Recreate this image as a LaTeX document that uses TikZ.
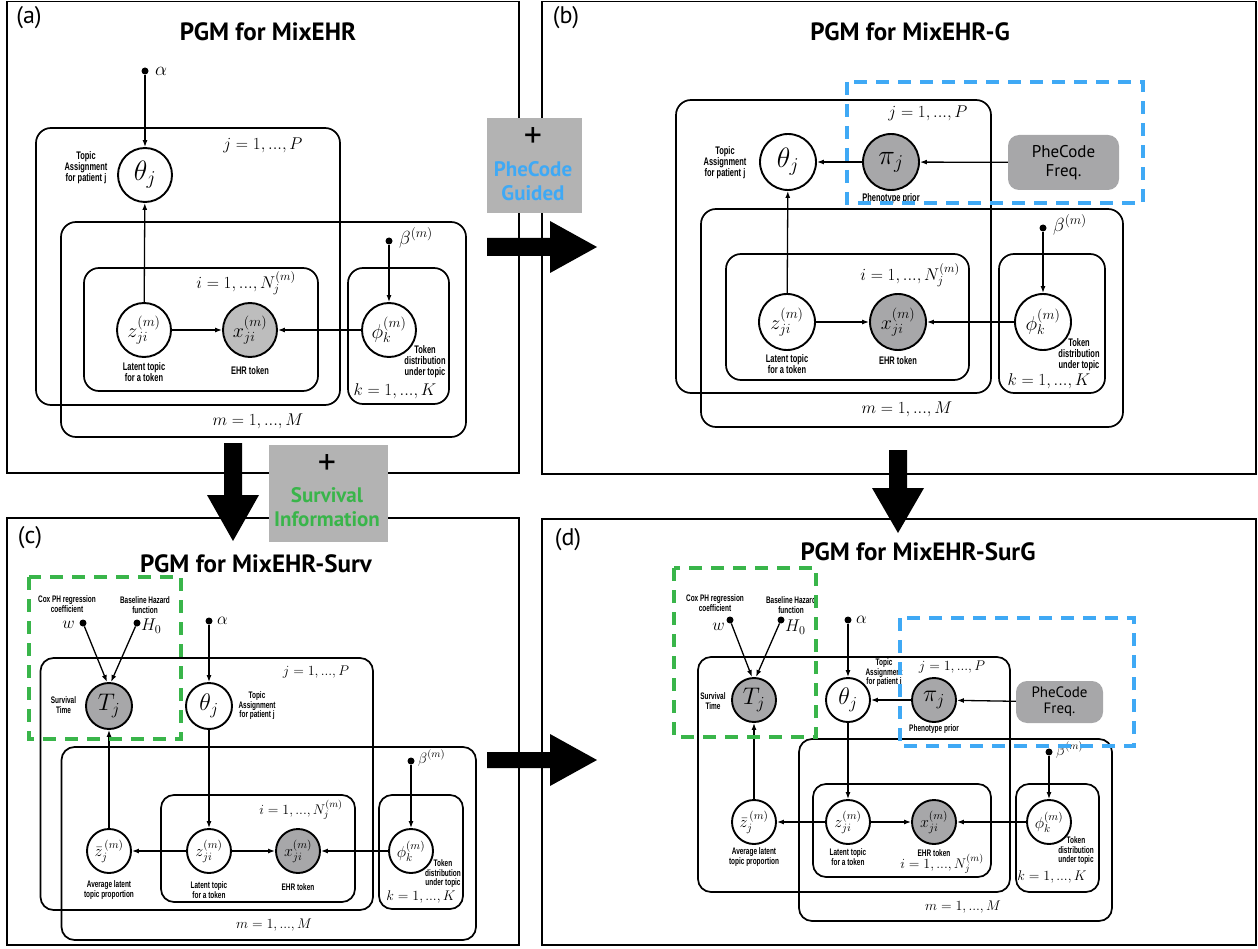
\documentclass[tikz,border=0pt]{standalone}
\usepackage{fix-cm}
\usepackage{fontspec}
\setsansfont{PT Sans}
\newfontfamily\condfont[FakeStretch=0.68]{Liberation Sans}
\usetikzlibrary{arrows.meta}
\definecolor{obsA}{HTML}{BDBDBD}
\definecolor{obsB}{HTML}{A7A7A9}
\definecolor{boxgray}{HTML}{B3B3B3}
\definecolor{guideblue}{HTML}{3FA9F5}
\definecolor{survgreen}{HTML}{39B54A}
\tikzset{
  panel/.style={draw, line width=1.8pt},
  plate/.style={draw, line width=1.7pt, rounded corners=#1},
  plate/.default=14pt,
  var/.style={circle, draw, line width=1.9pt, fill=white, inner sep=0pt, minimum size=#1},
  sym/.style={font=\fontsize{#1}{#1}\selectfont},
  arr/.style={-{Latex[length=7pt,width=5pt]}, line width=1.3pt},
  hyper/.style={circle, fill=black, inner sep=0pt, minimum size=7pt},
  note/.style={font=\condfont\bfseries\fontsize{#1}{#1}\selectfont, align=center, inner sep=0pt},
  tag/.style={font=\sffamily\fontsize{24}{24}\selectfont, inner sep=0pt},
  title/.style={font=\sffamily\bfseries\fontsize{25}{25}\selectfont, inner sep=0pt},
  mlab/.style={font=\fontsize{#1}{#1}\selectfont, inner sep=0pt},
  dashbox/.style={draw=#1, line width=3.5pt, dash pattern=on 13pt off 9pt},
  bigarrow/.style={fill=black},
  addbox/.style={fill=boxgray},
  freqbox/.style={fill=obsB, rounded corners=11pt, align=center, inner sep=0pt, font=\sffamily\fontsize{#1}{#1}\selectfont},
  addtext/.style={font=\sffamily\bfseries\fontsize{21}{21}\selectfont, inner sep=0pt, align=center},
  plus/.style={font=\sffamily\fontsize{36}{36}\selectfont, inner sep=0pt}
}
\begin{document}
\begin{tikzpicture}[x=1pt,y=-1pt]
\useasboundingbox (0,0) rectangle (1258,949);

% ---------------- panel (a): MixEHR ----------------
\draw[panel] (7,1.5) rectangle (519,473);
\node[tag] (aTag) at (29,18) {(a)};
\node[title] (aTitle) at (268,32) {PGM for MixEHR};
\draw[plate=15pt] (36,128) rectangle (340,405);
\draw[plate=15pt] (61,222) rectangle (466,437);
\draw[plate=15pt] (84,268) rectangle (318,391);
\draw[plate=15pt] (348,268) rectangle (449,404);
\node[mlab=17] (aJ) at (263,145) {$j = 1, ..., P$};
\node[mlab=17] (aM) at (258,421) {$m = 1, ..., M$};
\node[mlab=17] (aI) at (246,283) {$i = 1, ..., N_j^{(m)}$};
\node[mlab=17] (aK) at (395,391) {$k = 1, ..., K$};
\node[var=54pt, sym=28] (aTheta) at (145,175) {$\theta_j$};
\node[var=54pt, sym=20] (aZ) at (144,330) {$z_{ji}^{(m)}$};
\node[var=54pt, sym=20, fill=obsA] (aX) at (250,330) {$x_{ji}^{(m)}$};
\node[var=54pt, sym=20] (aPhi) at (389,330) {$\phi_k^{(m)}$};
\node[hyper] (aAlpha) at (145,71) {};
\node[mlab=19, anchor=west] (aAlphaL) at (155,71) {$\alpha$};
\node[hyper] (aBeta) at (389,241) {};
\node[mlab=19, anchor=west] (aBetaL) at (399,238) {$\beta^{(m)}$};
\node[note=11] (aThetaN) at (86,168) {Topic\\Assignment\\for patient j};
\node[note=11] (aZN) at (144,372) {Latent topic\\for a token};
\node[note=11] (aXN) at (250,371) {EHR token};
\node[note=11] (aPhiN) at (425,362) {Token\\distribution\\under topic};
\draw[arr] (aAlpha) -- (aTheta);
\draw[arr] (aZ) -- (aTheta);
\draw[arr] (aZ) -- (aX);
\draw[arr] (aPhi) -- (aX);
\draw[arr] (aBeta) -- (aPhi);

% ---------------- panel (b): MixEHR-G ----------------
\draw[panel] (542,1.5) rectangle (1256,474);
\node[tag] (bTag) at (566,18) {(b)};
\node[title] (bTitle) at (910,32) {PGM for MixEHR-G};
\draw[plate=15pt] (676,100) rectangle (991,393);
\draw[plate=15pt] (701,209) rectangle (1123,427);
\draw[plate=15pt] (726,254) rectangle (969,380);
\draw[plate=15pt] (999,254) rectangle (1105,393);
\node[mlab=17] (bJ) at (928,113) {$j = 1, ..., P$};
\node[mlab=17] (bM) at (907,409) {$m = 1, ..., M$};
\node[mlab=17] (bI) at (910,275) {$i = 1, ..., N_j^{(m)}$};
\node[mlab=17] (bK) at (1049,381) {$k = 1, ..., K$};
\node[var=56pt, sym=28] (bTheta) at (788,162) {$\theta_j$};
\node[var=56pt, sym=28, fill=obsB] (bPi) at (891,162) {$\pi_j$};
\node[freqbox=17, minimum width=111pt, minimum height=55pt] (bFreq) at (1063.5,162.5) {PheCode\\[2pt]Freq.};
\node[var=56pt, sym=20] (bZ) at (787,322) {$z_{ji}^{(m)}$};
\node[var=56pt, sym=20, fill=obsB] (bX) at (898,322) {$x_{ji}^{(m)}$};
\node[var=56pt, sym=20] (bPhi) at (1043,322) {$\phi_k^{(m)}$};
\node[hyper] (bBeta) at (1043,228) {};
\node[mlab=19, anchor=west] (bBetaL) at (1053,225) {$\beta^{(m)}$};
\node[note=11] (bThetaN) at (725,163) {Topic\\Assignment\\for patient j};
\node[note=11] (bPiN) at (891,199) {Phenotype prior};
\node[note=11] (bZN) at (787,364) {Latent topic\\for a token};
\node[note=11] (bXN) at (898,361) {EHR token};
\node[note=11] (bPhiN) at (1079,355) {Token\\distribution\\under topic};
\draw[arr] (bPi) -- (bTheta);
\draw[arr] (bFreq) -- (bPi);
\draw[arr] (bZ) -- (bTheta);
\draw[arr] (bZ) -- (bX);
\draw[arr] (bPhi) -- (bX);
\draw[arr] (bBeta) -- (bPhi);
\draw[dashbox=guideblue] (847,82) rectangle (1143,203);

% ---------------- panel (c): MixEHR-Surv ----------------
\draw[panel] (7,518) rectangle (519,945);
\node[tag] (cTag) at (30,538) {(c)};
\node[title] (cTitle) at (256,564) {PGM for MixEHR-Surv};
\draw[plate=13pt] (40.5,658) rectangle (373,910);
\draw[plate=13pt] (61.5,747) rectangle (476,940);
\draw[plate=13pt] (161,795) rectangle (355,902);
\draw[plate=13pt] (379,795) rectangle (463,909);
\node[mlab=14] (cJ) at (316,672) {$j = 1, ..., P$};
\node[mlab=14] (cM) at (274,925) {$m = 1, ..., M$};
\node[mlab=14] (cI) at (301,810) {$i = 1, ..., N_j^{(m)}$};
\node[mlab=14] (cK) at (421,897) {$k = 1, ..., K$};
\node[var=46pt, sym=24, fill=obsB] (cT) at (109,706) {$T_j$};
\node[var=46pt, sym=24] (cTheta) at (209,706) {$\theta_j$};
\node[var=44pt, sym=16] (cZbar) at (109,851) {$\bar{z}_j^{\,(m)}$};
\node[var=44pt, sym=16] (cZ) at (209,851) {$z_{ji}^{(m)}$};
\node[var=44pt, sym=16, fill=obsB] (cX) at (298,851) {$x_{ji}^{(m)}$};
\node[var=44pt, sym=16] (cPhi) at (411,851) {$\phi_k^{(m)}$};
\node[hyper] (cW) at (83,623) {};
\node[mlab=17, anchor=east] (cWL) at (75,625) {$w$};
\node[hyper] (cH) at (137,623) {};
\node[mlab=17, anchor=west] (cHL) at (141,626) {$H_0$};
\node[hyper] (cAlpha) at (209,621) {};
\node[mlab=17, anchor=west] (cAlphaL) at (217,621) {$\alpha$};
\node[hyper] (cBeta) at (411,761) {};
\node[mlab=15, anchor=west] (cBetaL) at (418,758) {$\beta^{(m)}$};
\node[note=9.5] (cWN) at (67,604) {Cox PH regression\\coefficient};
\node[note=9.5] (cHN) at (145,605) {Baseline Hazard\\function};
\node[note=9.5] (cTN) at (63.5,705) {Survival\\Time};
\node[note=9.5] (cThetaN) at (257,706) {Topic\\Assignment\\for patient j};
\node[note=9.5] (cZbarN) at (109,890) {Average latent\\topic proportion};
\node[note=9.5] (cZN) at (209,890) {Latent topic\\for a token};
\node[note=9.5] (cXN) at (298,887) {EHR token};
\node[note=9.5] (cPhiN) at (443,874) {Token\\distribution\\under topic};
\draw[arr] (cW) -- ([xshift=-2pt]cT.north);
\draw[arr] (cH) -- ([xshift=2pt]cT.north);
\draw[arr] (cAlpha) -- (cTheta);
\draw[arr] (cTheta) -- (cZ);
\draw[arr] (cZbar) -- (cT);
\draw[arr] (cZ) -- (cZbar);
\draw[arr] (cZ) -- (cX);
\draw[arr] (cPhi) -- (cX);
\draw[arr] (cBeta) -- (cPhi);
\draw[dashbox=survgreen] (29,577) rectangle (181,739);

% ---------------- panel (d): MixEHR-SurG ----------------
\draw[panel] (542,519) rectangle (1256,945);
\node[tag] (dTag) at (568,540) {(d)};
\node[title] (dTitle) at (918,552) {PGM for MixEHR-SurG};
\draw[plate=13pt] (698,657) rectangle (1010,892);
\draw[plate=13pt] (799,739) rectangle (1112,921);
\draw[plate=13pt] (813,784) rectangle (991,877);
\draw[plate=13pt] (1016,784) rectangle (1099,892);
\node[mlab=14] (dJ) at (952,667) {$j = 1, ..., P$};
\node[mlab=14] (dM) at (963,907) {$m = 1, ..., M$};
\node[mlab=14] (dI) at (942,864) {$i = 1, ..., N_j^{(m)}$};
\node[mlab=14] (dK) at (1052,877) {$k = 1, ..., K$};
\node[var=44pt, sym=24, fill=obsB] (dT) at (754,700) {$T_j$};
\node[var=44pt, sym=24] (dTheta) at (848,700) {$\theta_j$};
\node[var=44pt, sym=24, fill=obsB] (dPi) at (934,700) {$\pi_j$};
\node[freqbox=15, minimum width=87pt, minimum height=42pt] (dFreq) at (1059.5,702) {PheCode\\[1pt]Freq.};
\node[var=44pt, sym=16] (dZbar) at (754,822) {$\bar{z}_j^{\,(m)}$};
\node[var=44pt, sym=16] (dZ) at (848,822) {$z_{ji}^{(m)}$};
\node[var=44pt, sym=16, fill=obsB] (dX) at (934,822) {$x_{ji}^{(m)}$};
\node[var=44pt, sym=16] (dPhi) at (1049,822) {$\phi_k^{(m)}$};
\node[hyper] (dW) at (730,620) {};
\node[mlab=17, anchor=east] (dWL) at (725,627) {$w$};
\node[hyper] (dH) at (781,620) {};
\node[mlab=17, anchor=west] (dHL) at (785,627) {$H_0$};
\node[hyper] (dAlpha) at (848,620) {};
\node[mlab=17, anchor=west] (dAlphaL) at (856,620) {$\alpha$};
\node[hyper] (dBeta) at (1049,752) {};
\node[mlab=15, anchor=west] (dBetaL) at (1056,750) {$\beta^{(m)}$};
\node[note=9.5] (dWN) at (715,603) {Cox PH regression\\coefficient};
\node[note=9.5] (dHN) at (791,605) {Baseline Hazard\\function};
\node[note=9.5] (dTN) at (713,701) {Survival\\Time};
\node[note=9.5] (dThetaN) at (884,673) {Topic\\Assignment\\for patient j};
\node[note=9.5] (dPiN) at (934,729) {Phenotype prior};
\node[note=9.5] (dZbarN) at (754,857) {Average latent\\topic proportion};
\node[note=9.5] (dZN) at (848,857) {Latent topic\\for a token};
\node[note=9.5] (dXN) at (934,853) {EHR token};
\node[note=9.5] (dPhiN) at (1076,851) {Token\\distribution\\under topic};
\draw[arr] (dW) -- ([xshift=-2pt]dT.north);
\draw[arr] (dH) -- ([xshift=2pt]dT.north);
\draw[arr] (dAlpha) -- (dTheta);
\draw[arr] (dTheta) -- (dZ);
\draw[arr] (dZbar) -- (dT);
\draw[arr] (dZ) -- (dZbar);
\draw[arr] (dZ) -- (dX);
\draw[arr] (dPhi) -- (dX);
\draw[arr] (dBeta) -- (dPhi);
\draw[arr] (dPi) -- (dTheta);
\draw[arr] (dFreq) -- (dPi);
\draw[dashbox=survgreen] (674,568) rectangle (816,737);
\draw[dashbox=guideblue] (900,618) rectangle (1134,746);

% ---------------- transitions between panels ----------------
\fill[addbox] (487,118) rectangle (582,213);
\node[plus] (gPlus) at (533,138) {+};
\node[addtext, text=guideblue] (gText) at (533,181) {PheCode\\[3pt]Guided};
\fill[bigarrow] (487,238) -- (550,238) -- (550,221) -- (597,247) -- (550,273) -- (550,256) -- (487,256) -- cycle;
\fill[bigarrow] (487,752) -- (550,752) -- (550,734) -- (597,760) -- (550,786) -- (550,768) -- (487,768) -- cycle;
\fill[bigarrow] (224,443) -- (242,443) -- (242,495) -- (259,495) -- (233,541) -- (207,495) -- (224,495) -- cycle;
\fill[bigarrow] (889,450) -- (907,450) -- (907,488) -- (924,488) -- (898,533) -- (872,488) -- (889,488) -- cycle;
\fill[addbox] (269,445) rectangle (388,542);
\node[plus] (sPlus) at (327,465) {+};
\node[addtext, text=survgreen] (sText) at (327,507) {Survival\\[3pt]Information};
\end{tikzpicture}
\end{document}
